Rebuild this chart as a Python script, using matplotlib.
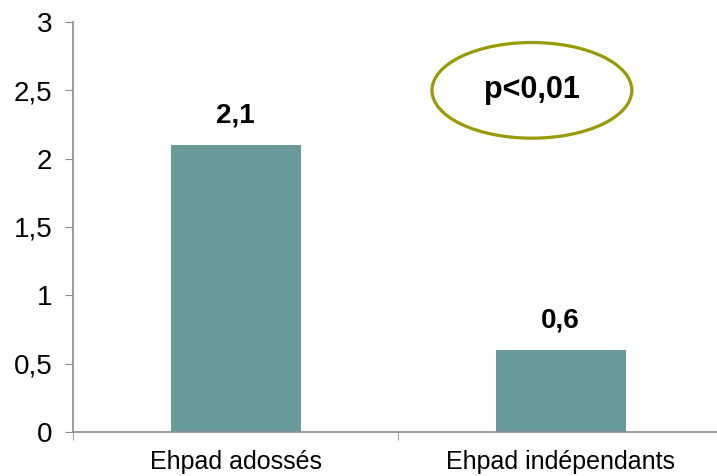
#!/usr/bin/env python3
import matplotlib.pyplot as plt
from matplotlib.patches import Ellipse
from matplotlib.ticker import FixedLocator

plt.rcParams.update({
    "font.family": ["Liberation Sans", "DejaVu Sans"],
    "font.size": 18,
})

categories = ["Ehpad adossés", "Ehpad indépendants"]
values = [2.1, 0.6]
value_labels = ["2,1", "0,6"]
y_ticks = [0, 0.5, 1, 1.5, 2, 2.5, 3]
y_tick_labels = ["0", "0,5", "1", "1,5", "2", "2,5", "3"]
p_text = "p<0,01"

bar_color = "#679a99"
axis_color = "#8c8c8c"


def main():
    fig = plt.figure(figsize=(7.17, 4.76), dpi=100)
    ax = fig.add_axes([73 / 717, 1 - 432 / 476, 650 / 717, 410 / 476])

    x = list(range(len(categories)))
    ax.bar(x, values, width=0.4, color=bar_color, zorder=2)

    for xi, v, lab in zip(x, values, value_labels):
        ax.annotate(lab, (xi, v), xytext=(0, 12), textcoords="offset points",
                    ha="center", va="bottom", fontsize=20, fontweight="bold")

    ax.set_xlim(-0.5, len(categories) - 0.5)
    ax.set_ylim(0, 3)
    ax.set_yticks(y_ticks)
    ax.set_yticklabels(y_tick_labels, fontsize=20)
    ax.set_xticks(x)
    ax.set_xticklabels(categories, fontsize=18)
    ax.xaxis.set_minor_locator(FixedLocator([i - 0.5 for i in range(len(categories) + 1)]))
    ax.tick_params(axis="x", which="major", length=0, pad=13)
    ax.tick_params(axis="x", which="minor", length=6, color=axis_color, direction="out")
    ax.tick_params(axis="y", length=6, color=axis_color, direction="out", pad=9)

    for side in ["top", "right"]:
        ax.spines[side].set_visible(False)
    for side in ["left", "bottom"]:
        ax.spines[side].set_color(axis_color)
        ax.spines[side].set_linewidth(1.2)

    ell = Ellipse((0.912, 2.5), 0.615, 0.70, fill=False,
                  edgecolor="#999900", linewidth=2.3, zorder=3)
    ax.add_patch(ell)
    ax.text(0.912, 2.5, p_text, ha="center", va="center",
            fontsize=22, fontweight="bold", zorder=4)

    fig.savefig("out.png", dpi=100)


if __name__ == "__main__":
    main()
